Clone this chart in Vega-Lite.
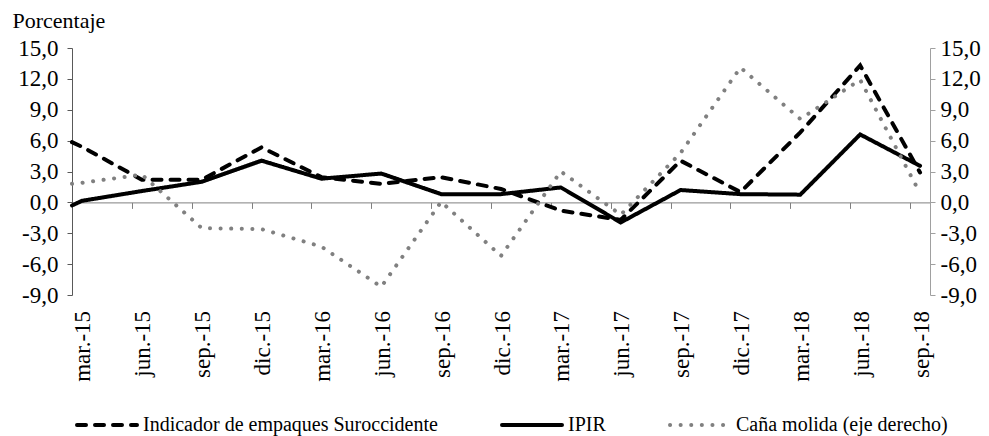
{
  "$schema": "https://vega.github.io/schema/vega-lite/v6.json",
  "width": 858,
  "height": 247,
  "autosize": "none",
  "padding": {"left": 72, "top": 48, "right": 59, "bottom": 141},
  "background": "white",
  "config": {
    "font": "Liberation Serif",
    "view": {"stroke": null},
    "axis": {"grid": false, "labelFont": "Liberation Serif", "titleFont": "Liberation Serif"},
    "legend": {
      "orient": "none",
      "legendX": 3,
      "legendY": 345,
      "direction": "horizontal",
      "symbolType": "stroke",
      "symbolSize": 3600,
      "symbolStrokeWidth": 4,
      "labelFontSize": 20,
      "labelFont": "Liberation Serif",
      "labelColor": "black",
      "columnPadding": 56,
      "labelOffset": 4,
      "padding": 0,
      "labelLimit": 600
    }
  },
  "data": {
    "values": [
      {"serie": "Indicador de empaques Suroccidente", "mes": -0.5, "valor": 5.85},
      {"serie": "Indicador de empaques Suroccidente", "mes": 0, "valor": 5.4},
      {"serie": "Indicador de empaques Suroccidente", "mes": 3, "valor": 2.2},
      {"serie": "Indicador de empaques Suroccidente", "mes": 6, "valor": 2.2},
      {"serie": "Indicador de empaques Suroccidente", "mes": 9, "valor": 5.35},
      {"serie": "Indicador de empaques Suroccidente", "mes": 12, "valor": 2.45},
      {"serie": "Indicador de empaques Suroccidente", "mes": 15, "valor": 1.8},
      {"serie": "Indicador de empaques Suroccidente", "mes": 18, "valor": 2.45},
      {"serie": "Indicador de empaques Suroccidente", "mes": 21, "valor": 1.3},
      {"serie": "Indicador de empaques Suroccidente", "mes": 24, "valor": -0.8},
      {"serie": "Indicador de empaques Suroccidente", "mes": 27, "valor": -1.7},
      {"serie": "Indicador de empaques Suroccidente", "mes": 30, "valor": 4.05},
      {"serie": "Indicador de empaques Suroccidente", "mes": 33, "valor": 1.0},
      {"serie": "Indicador de empaques Suroccidente", "mes": 36, "valor": 6.8},
      {"serie": "Indicador de empaques Suroccidente", "mes": 39, "valor": 13.3},
      {"serie": "Indicador de empaques Suroccidente", "mes": 42, "valor": 2.9},
      {"serie": "IPIR", "mes": -0.5, "valor": -0.3},
      {"serie": "IPIR", "mes": 0, "valor": 0.15},
      {"serie": "IPIR", "mes": 3, "valor": 1.1},
      {"serie": "IPIR", "mes": 6, "valor": 2.0},
      {"serie": "IPIR", "mes": 9, "valor": 4.05},
      {"serie": "IPIR", "mes": 12, "valor": 2.3},
      {"serie": "IPIR", "mes": 15, "valor": 2.8},
      {"serie": "IPIR", "mes": 18, "valor": 0.8},
      {"serie": "IPIR", "mes": 21, "valor": 0.8},
      {"serie": "IPIR", "mes": 24, "valor": 1.45},
      {"serie": "IPIR", "mes": 27, "valor": -1.95},
      {"serie": "IPIR", "mes": 30, "valor": 1.2},
      {"serie": "IPIR", "mes": 33, "valor": 0.8},
      {"serie": "IPIR", "mes": 36, "valor": 0.75},
      {"serie": "IPIR", "mes": 39, "valor": 6.6},
      {"serie": "IPIR", "mes": 42, "valor": 3.55},
      {"serie": "Caña molida (eje derecho)", "mes": -0.5, "valor": 1.8},
      {"serie": "Caña molida (eje derecho)", "mes": 0, "valor": 1.9},
      {"serie": "Caña molida (eje derecho)", "mes": 3, "valor": 2.7},
      {"serie": "Caña molida (eje derecho)", "mes": 6, "valor": -2.5},
      {"serie": "Caña molida (eje derecho)", "mes": 9, "valor": -2.6},
      {"serie": "Caña molida (eje derecho)", "mes": 12, "valor": -4.3},
      {"serie": "Caña molida (eje derecho)", "mes": 15, "valor": -8.2},
      {"serie": "Caña molida (eje derecho)", "mes": 18, "valor": 0.05},
      {"serie": "Caña molida (eje derecho)", "mes": 21, "valor": -5.2},
      {"serie": "Caña molida (eje derecho)", "mes": 24, "valor": 3.0},
      {"serie": "Caña molida (eje derecho)", "mes": 27, "valor": -1.2},
      {"serie": "Caña molida (eje derecho)", "mes": 30, "valor": 4.8},
      {"serie": "Caña molida (eje derecho)", "mes": 33, "valor": 13.1},
      {"serie": "Caña molida (eje derecho)", "mes": 36, "valor": 8.1},
      {"serie": "Caña molida (eje derecho)", "mes": 39, "valor": 11.9},
      {"serie": "Caña molida (eje derecho)", "mes": 42, "valor": 0.9}
    ]
  },
  "encoding": {
    "x": {
      "field": "mes",
      "type": "quantitative",
      "scale": {"domain": [-0.5, 42.5], "nice": false, "zero": false},
      "axis": {
        "title": null,
        "values": [0, 3, 6, 9, 12, 15, 18, 21, 24, 27, 30, 33, 36, 39, 42],
        "labelExpr": "['mar.-15','jun.-15','sep.-15','dic.-15','mar.-16','jun.-16','sep.-16','dic.-16','mar.-17','jun.-17','sep.-17','dic.-17','mar.-18','jun.-18','sep.-18'][round(datum.value/3)]",
        "labelAngle": -90,
        "offset": -92.6,
        "tickSize": 6,
        "tickOffset": -10,
        "labelOffset": 11,
        "labelPadding": 102,
        "domainColor": "#808080",
        "tickColor": "#808080",
        "labelFontSize": 23,
        "labelColor": "black",
        "labelFlush": false,
        "labelOverlap": false,
        "labelBound": false
      }
    },
    "color": {
      "field": "serie",
      "type": "nominal",
      "scale": {
        "domain": ["Indicador de empaques Suroccidente", "IPIR", "Caña molida (eje derecho)"],
        "range": ["#000000", "#000000", "#808080"]
      },
      "legend": {"title": null, "encode": {"symbols": {"update": {"strokeCap": {"value": "round"}}}}}
    },
    "strokeDash": {
      "field": "serie",
      "type": "nominal",
      "scale": {
        "domain": ["Indicador de empaques Suroccidente", "IPIR", "Caña molida (eje derecho)"],
        "range": [[9, 9], [1, 0], [0.1, 10.5]]
      },
      "legend": {"title": null, "encode": {"symbols": {"update": {"strokeCap": {"value": "round"}}}}}
    }
  },
  "layer": [
    {
      "transform": [{"filter": "datum.serie !== 'Caña molida (eje derecho)'"}],
      "mark": {"type": "line", "strokeWidth": 4, "strokeCap": "round"},
      "encoding": {
        "y": {
          "field": "valor",
          "type": "quantitative",
          "scale": {"domain": [-9, 15], "nice": false, "zero": false},
          "axis": {
            "orient": "left",
            "values": [-9, -6, -3, 0, 3, 6, 9, 12, 15],
            "labelExpr": "(datum.value < 0 ? '-' : '') + replace(format(abs(datum.value), '.1f'), '.', ',')",
            "tickSize": 5,
            "labelPadding": 9,
            "domainColor": "#595959",
            "tickColor": "#595959",
            "labelFontSize": 23,
            "labelColor": "black",
            "labelFlush": false,
            "title": "Porcentaje",
            "titleAngle": 0,
            "titleAlign": "left",
            "titleBaseline": "alphabetic",
            "titleX": -60,
            "titleY": -21,
            "titleFontSize": 22,
            "titleFontWeight": "normal",
            "titleColor": "black"
          }
        }
      }
    },
    {
      "transform": [{"filter": "datum.serie === 'Caña molida (eje derecho)'"}],
      "mark": {"type": "line", "strokeWidth": 4, "strokeCap": "round"},
      "encoding": {
        "y": {
          "field": "valor",
          "type": "quantitative",
          "scale": {"domain": [-9, 15], "nice": false, "zero": false},
          "axis": {
            "orient": "right",
            "values": [-9, -6, -3, 0, 3, 6, 9, 12, 15],
            "labelExpr": "(datum.value < 0 ? '-' : '') + replace(format(abs(datum.value), '.1f'), '.', ',')",
            "tickSize": 5,
            "labelPadding": 5,
            "domainColor": "#a0a0a0",
            "tickColor": "#a0a0a0",
            "labelFontSize": 23,
            "labelColor": "black",
            "labelFlush": false,
            "title": null
          }
        }
      }
    }
  ],
  "resolve": {"scale": {"y": "independent"}}
}
